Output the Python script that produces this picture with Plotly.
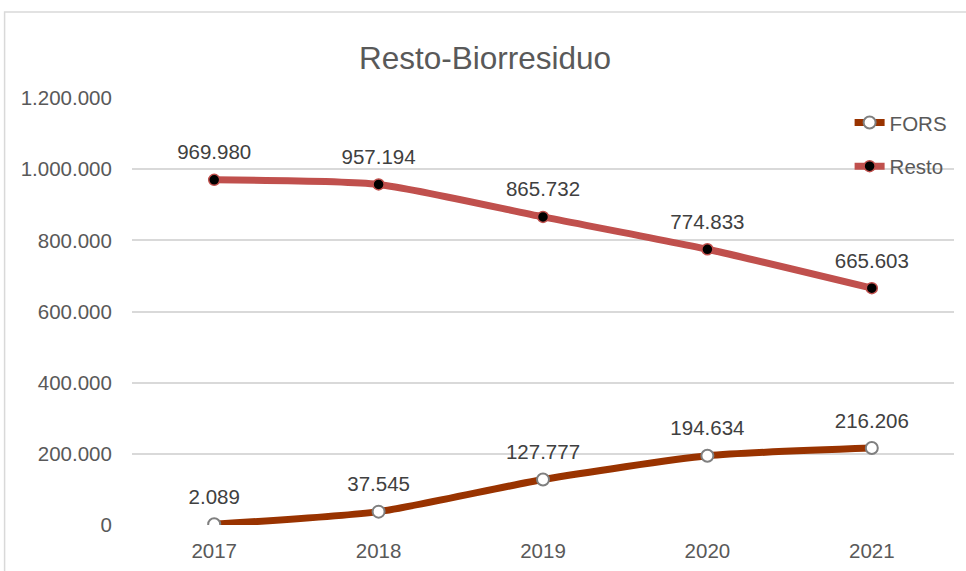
import plotly.graph_objects as go

years = ["2017", "2018", "2019", "2020", "2021"]
fors = [2089, 37545, 127777, 194634, 216206]
resto = [969980, 957194, 865732, 774833, 665603]
y_ticks = [0, 200000, 400000, 600000, 800000, 1000000, 1200000]

TXT = "#595959"
LBL = "#404040"
FONT = "Liberation Sans, Arial, sans-serif"

fig = go.Figure()
fig.add_trace(go.Scatter(
    x=years, y=fors, name="FORS", legendgroup="a",
    mode="lines+markers", line=dict(color="#993300", width=7, shape="spline", smoothing=0.6),
    marker=dict(size=12, color="white", line=dict(color="#7f7f7f", width=2)),
))
fig.add_trace(go.Scatter(
    x=years, y=resto, name="Resto", legendgroup="b",
    mode="lines+markers", line=dict(color="#C0504D", width=7, shape="spline", smoothing=0.6),
    marker=dict(size=11, color="black", line=dict(color="#C0504D", width=1.5)),
))
# data labels (invisible spacer markers push the text above the points)
for series in (fors, resto):
    fig.add_trace(go.Scatter(
        x=years, y=series, mode="markers+text", showlegend=False, hoverinfo="skip",
        marker=dict(size=23, color="rgba(0,0,0,0)"),
        texttemplate="%{y:,d}", textposition="top center",
        textfont=dict(size=20.5, color=LBL, family=FONT),
    ))

fig.update_layout(
    width=966, height=571,
    margin=dict(l=131.5, r=12, t=98, b=46, autoexpand=False),
    paper_bgcolor="white", plot_bgcolor="white",
    separators=",.",
    font=dict(family=FONT, color=TXT, size=20),
    title=dict(text="Resto-Biorresiduo", x=485 / 966, xanchor="center", y=1 - 58 / 571, yanchor="middle",
               xref="container", yref="container", font=dict(size=31.5, color=TXT, family=FONT)),
    showlegend=True,
    legend=dict(x=0.873, y=0.989, xanchor="left", yanchor="top", bgcolor="rgba(0,0,0,0)",
                font=dict(size=20.5, color=TXT, family=FONT), tracegroupgap=14),
    shapes=[dict(type="rect", xref="paper", yref="paper", x0=-0.155, x1=1.2, y0=-0.3, y1=1.2014,
                 line=dict(color="#d9d9d9", width=1.5), fillcolor="rgba(0,0,0,0)", layer="below")],
)
fig.update_xaxes(type="category", range=[-0.5, 4.5], showgrid=False, showline=False, zeroline=False,
                 automargin=False,
                 tickfont=dict(size=20.5, color=TXT), ticks="outside", ticklen=7, tickcolor="rgba(0,0,0,0)")
fig.update_yaxes(range=[0, 1200000], tickvals=y_ticks, tickformat=",d", showgrid=True, automargin=False,
                 gridcolor="#d9d9d9", gridwidth=1.5, zeroline=False, showline=False,
                 tickfont=dict(size=20.5, color=TXT), ticks="outside", ticklen=15, tickcolor="rgba(0,0,0,0)")

fig.write_html("out.html", config={"displayModeBar": False},
               post_script="document.body.style.margin='0';")
